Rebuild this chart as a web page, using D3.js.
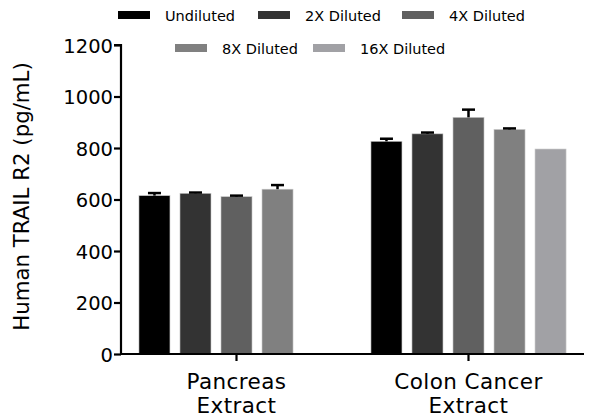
<!DOCTYPE html>
<html><head><meta charset="utf-8">
<script src="https://cdn.jsdelivr.net/npm/d3@7"></script>
<style>body{margin:0;background:#fff}svg{display:block}text{font-family:"DejaVu Sans",sans-serif}</style>
</head><body>
<svg id="c" width="597" height="419"></svg>
<script>
const categories = ["Pancreas|Extract", "Colon Cancer|Extract"];
const series = ["Undiluted", "2X Diluted", "4X Diluted", "8X Diluted", "16X Diluted"];
const colors = ["#000000", "#333333", "#606060", "#808080", "#a1a1a5"];
const means = [[615, 624, 611, 640, null], [826, 855, 919, 872, 796]];
const errors = [[10, 3, 4, 16, null], [10, 5, 30, 4, 0]];
const yTicks = [0, 200, 400, 600, 800, 1000, 1200];

const svg = d3.select("#c");
const x0 = d3.scaleBand().domain(categories).range([120.5, 584.5]).padding(0);
const x1 = d3.scaleBand().domain(series).range([0, x0.bandwidth()]).paddingInner(0.244).paddingOuter(0.45);
const y = d3.scaleLinear().domain([0, 1200]).range([354, 45]);
const font = '"DejaVu Sans", sans-serif';

// bars
categories.forEach((c, gi) => {
  const g = svg.append("g").attr("transform", `translate(${x0(c)},0)`);
  series.forEach((s, si) => {
    const v = means[gi][si];
    if (v == null) return;
    g.append("rect").attr("x", x1(s)).attr("width", x1.bandwidth())
      .attr("y", y(v)).attr("height", y(0) - y(v))
      .attr("fill", colors[si]).attr("stroke", "#c8c8c8").attr("stroke-width", 0.6);
    const e = errors[gi][si];
    if (e) {
      const cx = x1(s) + x1.bandwidth() / 2;
      g.append("line").attr("x1", cx).attr("x2", cx).attr("y1", y(v)).attr("y2", y(v + e)).attr("stroke", "#000").attr("stroke-width", 2.5);
      g.append("line").attr("x1", cx - 6.5).attr("x2", cx + 6.5).attr("y1", y(v + e)).attr("y2", y(v + e)).attr("stroke", "#000").attr("stroke-width", 2.5);
    }
  });
});

// y axis
const ya = svg.append("g").attr("transform", "translate(121,0)")
  .call(d3.axisLeft(y).tickValues(yTicks).tickSize(7).tickPadding(1).tickFormat(d3.format("d")));
ya.select(".domain").attr("stroke-width", 2.2).attr("d", `M-7,${y(1200)}H0V${y(0)}`);
ya.selectAll(".tick line").attr("stroke-width", 2.2);
ya.selectAll(".tick text").attr("font-size", 19.5).attr("font-family", font).attr("fill", "#000").attr("dy", "0.36em");

// x axis
const xa = svg.append("g").attr("transform", `translate(0,${y(0)})`)
  .call(d3.axisBottom(x0).tickSize(7).tickFormat(""));
xa.select(".domain").attr("stroke-width", 2.2).attr("d", `M120,0H584`);
xa.selectAll(".tick line").attr("stroke-width", 2.2);
categories.forEach(c => {
  const parts = c.split("|");
  const cx = x0(c) + x0.bandwidth() / 2;
  const t = svg.append("text").attr("text-anchor", "middle")
    .attr("font-size", 21.5).attr("letter-spacing", 0.4).attr("font-family", font);
  t.append("tspan").attr("x", cx).attr("y", 389).text(parts[0]);
  t.append("tspan").attr("x", cx).attr("y", 413).text(parts[1]);
});

// y title
svg.append("text").attr("transform", `translate(29,${(43 + 350) / 2}) rotate(-90)`)
  .attr("text-anchor", "middle").attr("font-size", 21.3).attr("font-family", font).text("Human TRAIL R2 (pg/mL)");

// legend
const legPos = [[118, 11], [258, 11], [402, 11], [175, 44], [313, 44]];
series.forEach((s, i) => {
  const [lx, ly] = legPos[i];
  svg.append("rect").attr("x", lx).attr("y", ly).attr("width", 32).attr("height", 8).attr("fill", colors[i]);
  svg.append("text").attr("x", lx + 47).attr("y", ly + 9.5).attr("font-size", 14.5).attr("font-family", font).text(s);
});
</script>
</body></html>
